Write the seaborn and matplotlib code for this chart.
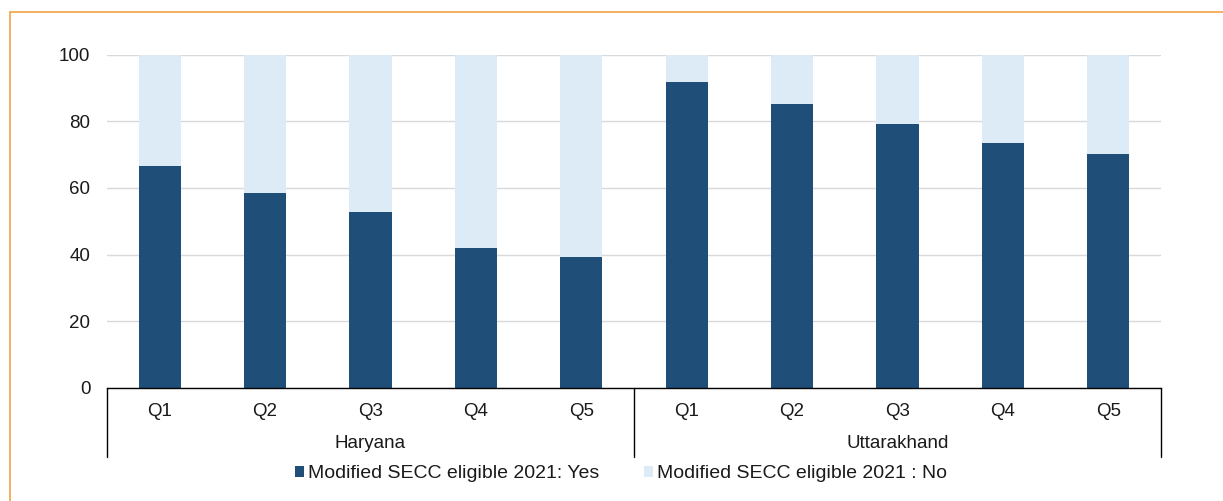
import matplotlib
matplotlib.use("Agg")
import matplotlib.pyplot as plt
from matplotlib.lines import Line2D
from matplotlib.patches import Patch
import seaborn as sns
import pandas as pd

# ---- data ----
states = ["Haryana", "Uttarakhand"]
quintiles = ["Q1", "Q2", "Q3", "Q4", "Q5"]
haryana_yes = [66.7, 58.5, 52.8, 42.0, 39.3]
uttarakhand_yes = [91.9, 85.3, 79.2, 73.6, 70.3]
series_labels = ["Modified SECC eligible 2021: Yes", "Modified SECC eligible 2021 : No"]
y_ticks = [0, 20, 40, 60, 80, 100]

DARK = "#1F4E79"
LIGHT = "#DDEBF7"
ORANGE = "#F0A646"
TXT = "#1A1A1A"
FS = 13.5

rows = []
for st, vals in zip(states, [haryana_yes, uttarakhand_yes]):
    for q, v in zip(quintiles, vals):
        rows.append({"key": f"{st}-{q}", "state": st, "q": q, "yes": v, "total": 100.0})
df = pd.DataFrame(rows)
order = list(df["key"])

sns.set_theme(style="white")
plt.rcParams["font.family"] = ["Liberation Sans", "DejaVu Sans"]

fig = plt.figure(figsize=(12.23, 5.01), dpi=100)
W, H = 1223, 501
left, right = 107 / W, 1161 / W
top_px, bot_px = 54.7, 387.7
ax = fig.add_axes([left, 1 - bot_px / H, right - left, (bot_px - top_px) / H])

sns.barplot(data=df, x="key", y="total", order=order, color=LIGHT, width=0.4,
            saturation=1, ax=ax, errorbar=None, linewidth=0)
sns.barplot(data=df, x="key", y="yes", order=order, color=DARK, width=0.4,
            saturation=1, ax=ax, errorbar=None, linewidth=0)

ax.set_xlim(-0.5, len(order) - 0.5)
ax.set_ylim(0, 100)
ax.set_yticks(y_ticks)
ax.set_yticklabels([str(t) for t in y_ticks], fontsize=FS, color=TXT)
ax.tick_params(axis="y", length=0, pad=12)
ax.set_xticks([])
ax.set_xlabel("")
ax.set_ylabel("")
ax.yaxis.grid(True, color="#D9D9D9", linewidth=1.0)
ax.set_axisbelow(True)
for s in ["top", "right", "left"]:
    ax.spines[s].set_visible(False)
ax.spines["bottom"].set_color("black")
ax.spines["bottom"].set_linewidth(1.0)

# multi-level category axis
ax_h_px = bot_px - top_px
q_off = -24 / ax_h_px
g_off = -55.5 / ax_h_px
line_end = -69.5 / ax_h_px
trans = ax.get_xaxis_transform()
for i, row in df.iterrows():
    ax.text(i, q_off, row["q"], transform=trans, ha="center", va="center",
            fontsize=FS, color=TXT)
for gi, st in enumerate(states):
    center = gi * 5 + 2
    ax.text(center, g_off, st, transform=trans, ha="center", va="center",
            fontsize=FS, color=TXT)
for xb in [-0.5, 4.5, 9.5]:
    ax.add_line(Line2D([xb, xb], [0, line_end], transform=trans, color="black",
                       linewidth=1.0, clip_on=False))

# legend
handles = [Patch(facecolor=DARK, edgecolor="none"), Patch(facecolor=LIGHT, edgecolor="none")]
fig.legend(handles, series_labels, loc="center", bbox_to_anchor=(621 / W, 1 - 474 / H),
           ncol=2, frameon=False, fontsize=14, handlelength=0.45, handleheight=0.45,
           handletextpad=0.2, columnspacing=2.3, labelcolor=TXT)

# orange frame
fig.add_artist(Line2D([9.5 / W, 1], [1 - 11.7 / H, 1 - 11.7 / H], color=ORANGE, linewidth=1.2))
fig.add_artist(Line2D([9.5 / W, 9.5 / W], [0, 1 - 11.7 / H], color=ORANGE, linewidth=1.2))

fig.savefig("out.png", dpi=100)
